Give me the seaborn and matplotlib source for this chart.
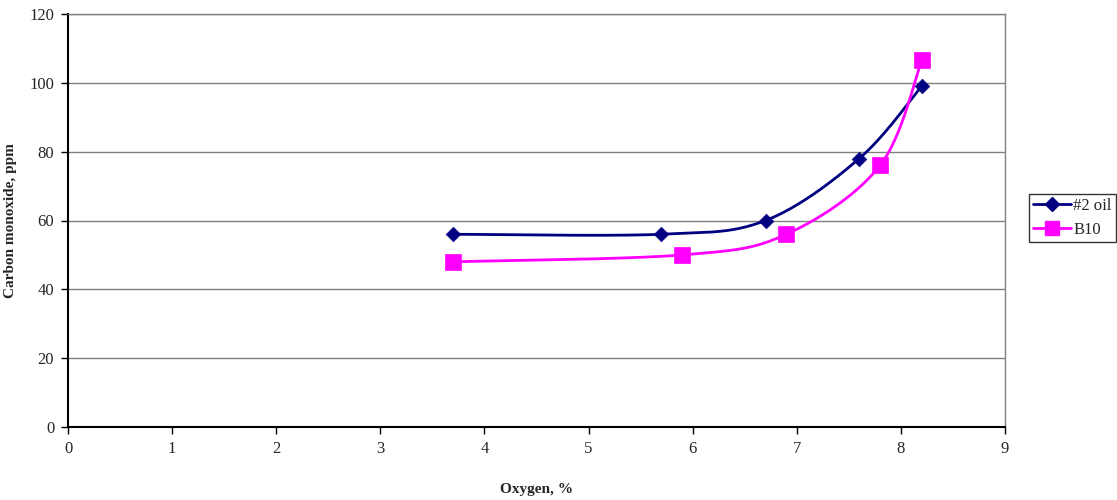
import numpy as np
import pandas as pd
import matplotlib
matplotlib.use("Agg")
import matplotlib.pyplot as plt
import seaborn as sns
from matplotlib.lines import Line2D

# ---- data ----
oil_x = [3.7, 5.7, 6.7, 7.6, 8.2]
oil_y = [56, 56, 60, 78, 99]
b10_x = [3.7, 5.9, 6.9, 7.8, 8.2]
b10_y = [48, 50, 56, 76, 106.5]
series_names = ["#2 oil", "B10"]
x_ticks = [0, 1, 2, 3, 4, 5, 6, 7, 8, 9]
y_ticks = [0, 20, 40, 60, 80, 100, 120]


def smooth(xs, ys, n=40):
    """Excel-like smoothed line: cubic Bezier with Catmull-Rom tangents."""
    P = np.column_stack([xs, ys]).astype(float)
    pts = []
    m = len(P)
    t = np.linspace(0, 1, n)
    for i in range(m - 1):
        p0 = P[i - 1] if i > 0 else P[i]
        p1, p2 = P[i], P[i + 1]
        p3 = P[i + 2] if i + 2 < m else P[i + 1]
        c1 = p1 + (p2 - p0) / 6.0
        c2 = p2 - (p3 - p1) / 6.0
        seg = ((1 - t) ** 3)[:, None] * p1 + (3 * (1 - t) ** 2 * t)[:, None] * c1 \
            + (3 * (1 - t) * t ** 2)[:, None] * c2 + (t ** 3)[:, None] * p2
        pts.append(seg if i == 0 else seg[1:])
    S = np.vstack(pts)
    return S[:, 0], S[:, 1]


sns.set_theme(style="white")
plt.rcParams["font.family"] = ["Liberation Serif", "DejaVu Serif"]

fig = plt.figure(figsize=(11.17, 5.0), dpi=100)
ax = fig.add_axes([0.0609, 0.146, 0.8388, 0.826])

navy = "#000080"
mag = "#FF00FF"

sx, sy = smooth(oil_x, oil_y)
sns.lineplot(x=sx, y=sy, sort=False, ax=ax, color=navy, linewidth=2, estimator=None)
sx, sy = smooth(b10_x, b10_y)
sns.lineplot(x=sx, y=sy, sort=False, ax=ax, color=mag, linewidth=2, estimator=None)

sns.scatterplot(x=oil_x, y=oil_y, ax=ax, marker="D", s=55, color=navy,
                edgecolor=navy, linewidth=0.5, zorder=5)
sns.scatterplot(x=b10_x, y=b10_y, ax=ax, marker="s", s=140, color=mag,
                edgecolor=mag, linewidth=0.5, zorder=5)

ax.set_xlim(0, 9)
ax.set_ylim(0, 120)
ax.set_xticks(x_ticks)
ax.set_yticks(y_ticks)
ax.set_xticklabels([str(v) for v in x_ticks], fontsize=12)
ax.set_yticklabels([str(v) for v in y_ticks], fontsize=12)
ax.yaxis.grid(True, color="#808080", linewidth=1)
ax.xaxis.grid(False)
ax.tick_params(axis="both", direction="out", length=5, width=1, color="black",
               bottom=True, left=True, pad=5)
for s in ["left", "bottom"]:
    ax.spines[s].set_color("black")
    ax.spines[s].set_linewidth(1.5)
for s in ["top", "right"]:
    ax.spines[s].set_color("#808080")
    ax.spines[s].set_linewidth(1)
ax.set_axisbelow(True)

ax.set_xlabel("Oxygen, %", fontsize=11, fontweight="bold")
ax.set_ylabel("Carbon monoxide, ppm", fontsize=11, fontweight="bold")
ax.xaxis.set_label_coords(0.5, -0.135)
ax.yaxis.set_label_coords(-0.054, 0.5)

handles = [
    Line2D([], [], color=navy, linewidth=2, marker="D", markersize=7),
    Line2D([], [], color=mag, linewidth=2, marker="s", markersize=10),
]
leg = fig.legend(handles, series_names, loc="upper left",
                 bbox_to_anchor=(0.9212, 0.612), fontsize=12, frameon=True,
                 fancybox=False, edgecolor="black", borderpad=0.25,
                 borderaxespad=0.0, handlelength=2.3, handletextpad=0.1,
                 labelspacing=0.45)
leg.get_frame().set_linewidth(1)

fig.savefig("out.png", dpi=100)
